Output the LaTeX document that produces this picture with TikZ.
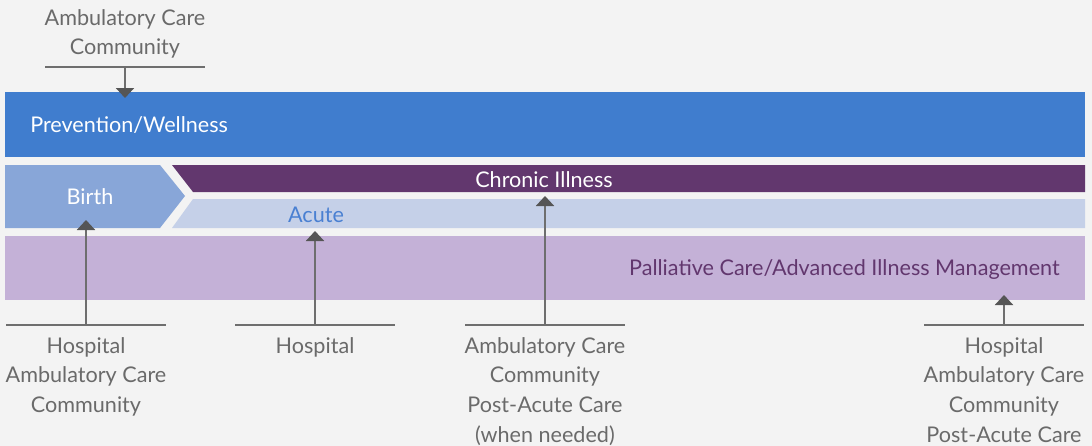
\documentclass[tikz,border=0pt]{standalone}
\usepackage{fontspec}
\setmainfont{Lato}
\usepackage{tikz}
\usetikzlibrary{arrows.meta}
\definecolor{bggray}{HTML}{F3F3F3}
\definecolor{wellblue}{HTML}{407DCE}
\definecolor{birthblue}{HTML}{88A6D8}
\definecolor{chronicpurple}{HTML}{62376E}
\definecolor{acuteblue}{HTML}{C5D0E8}
\definecolor{acutetext}{HTML}{4A80D2}
\definecolor{palliativelilac}{HTML}{C4B1D7}
\definecolor{textgray}{HTML}{6A6A6A}
\definecolor{linegray}{HTML}{6E6E6E}
\definecolor{tipgray}{HTML}{555555}

\tikzset{
  caretext/.style={text=textgray, align=center, font=\fontsize{16.2}{22.3}\selectfont, inner sep=0pt},
  bandtext/.style={font=\fontsize{16.2}{19}\selectfont, inner sep=0pt},
  feedline/.style={linegray, line width=1.5pt},
  feedarrow/.style={linegray, line width=1.5pt, -{Triangle[width=13.5pt,length=7.5pt,color=tipgray]}}
}

\begin{document}
\begin{tikzpicture}[x=0.75pt, y=-0.75pt]
    \fill[bggray] (0,0) rectangle (1092,446);
    \useasboundingbox (0,0) rectangle (1092,446);

    % bands
    \fill[wellblue] (5,92) rectangle (1085,157);
    \fill[birthblue] (5,165) -- (160,165) -- (185,196) -- (160,228) -- (5,228) -- cycle;
    \fill[chronicpurple] (172,165) -- (1085,165) -- (1085,192) -- (193,192) -- cycle;
    \fill[acuteblue] (193,199) -- (1085,199) -- (1085,228) -- (172,228) -- cycle;
    \fill[palliativelilac] (5,236) rectangle (1085,300);

    \node[bandtext, text=white, anchor=west] (wellness) at (30,125) {Prevention/Wellness};
    \node[bandtext, text=white] (birth) at (90,197) {Birth};
    \node[bandtext, text=white] (chronic) at (544,180) {Chronic Illness};
    \node[bandtext, text=acutetext] (acute) at (316,215) {Acute};
    \node[bandtext, text=chronicpurple, anchor=east] (palliative) at (1060,270) {Palliative Care/Advanced Illness Management};

    % top source
    \node[caretext] (wellsrc) at (125,34) {Ambulatory Care\\Community};
    \draw[feedline] (45,67) -- (205,67);
    \coordinate (wellbar) at (125,67);
    \coordinate (welltip) at (125,98);
    \draw[feedarrow] (wellbar) -- (welltip);

    % bottom sources
    \foreach \x/\tip/\name/\txt in {86/220/birth/{Hospital\\Ambulatory Care\\Community},
                                    315/231/acute/{Hospital},
                                    545/196/chronic/{Ambulatory Care\\Community\\Post-Acute Care\\(when needed)},
                                    1004/295/palliative/{Hospital\\Ambulatory Care\\Community\\Post-Acute Care}}{
      \draw[feedline] (\x-80,325) -- (\x+80,325);
      \coordinate (\name bar) at (\x,325);
      \coordinate (\name tip) at (\x,\tip);
      \draw[feedarrow] (\name bar) -- (\name tip);
      \node[caretext, anchor=north] (\name src) at (\x,337) {\txt};
    }
\end{tikzpicture}
\end{document}
